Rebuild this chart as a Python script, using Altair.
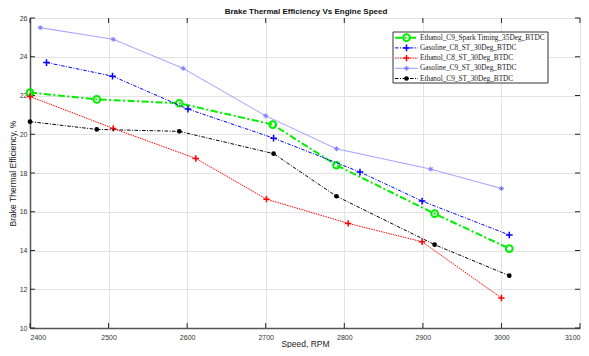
import altair as alt
import pandas as pd

series_names = [
    "Ethanol_C9_Spark Timing_35Deg_BTDC",
    "Gasoline_C8_ST_30Deg_BTDC",
    "Ethanol_C8_ST_30Deg_BTDC",
    "Gasoline_C9_ST_30Deg_BTDC",
    "Ethanol_C9_ST_30Deg_BTDC",
]

speed_e9_35 = [2400, 2485, 2590, 2709, 2790, 2915, 3010]
eff_e9_35 = [22.15, 21.8, 21.6, 20.5, 18.4, 15.9, 14.1]

speed_g8_30 = [2421, 2505, 2601, 2710, 2820, 2899, 3010]
eff_g8_30 = [23.7, 23.0, 21.3, 19.8, 18.05, 16.55, 14.8]

speed_e8_30 = [2400, 2506, 2611, 2701, 2805, 2899, 3000]
eff_e8_30 = [21.95, 20.3, 18.75, 16.65, 15.4, 14.45, 11.55]

speed_g9_30 = [2413, 2506, 2595, 2700, 2790, 2910, 3000]
eff_g9_30 = [25.5, 24.9, 23.4, 20.95, 19.25, 18.2, 17.2]

speed_e9_30 = [2400, 2485, 2590, 2710, 2790, 2915, 3010]
eff_e9_30 = [20.65, 20.25, 20.15, 19.0, 16.8, 14.3, 12.7]

x_ticks = [2400, 2500, 2600, 2700, 2800, 2900, 3000, 3100]
y_ticks = [10, 12, 14, 16, 18, 20, 22, 24, 26]

chart_title = "Brake Thermal Efficiency Vs Engine Speed"
x_title = "Speed, RPM"
y_title = "Brake Thermal Efficiency, %"

W, H = 550, 310

speeds = [speed_e9_35, speed_g8_30, speed_e8_30, speed_g9_30, speed_e9_30]
effs = [eff_e9_35, eff_g8_30, eff_e8_30, eff_g9_30, eff_e9_30]

rows = []
for name, sp, ef in zip(series_names, speeds, effs):
    for s, e in zip(sp, ef):
        rows.append({"series": name, "speed": s, "eff": e})
df = pd.DataFrame(rows)

PLUS = "M-1,0H1M0,-1V1"
STAR = "M-1,0H1M0,-1V1M-0.7,-0.7L0.7,0.7M-0.7,0.7L0.7,-0.7"

styles = [
    dict(color="#00ee00", width=2, dash=[7, 2.5, 2, 2.5], shape="circle", size=45, filled=False, mw=2),
    dict(color="#0000ff", width=1, dash=[3.5, 1.5, 1, 1.5], shape=PLUS, size=45, filled=False, mw=1.5),
    dict(color="#ff0000", width=1, dash=[1.5, 1], shape=PLUS, size=40, filled=False, mw=1.5),
    dict(color="#7b7bff", width=0.8, dash=[1, 0], shape=STAR, size=25, filled=False, mw=1),
    dict(color="#000000", width=1, dash=[3.5, 1.5, 1, 1.5], shape="circle", size=22, filled=True, mw=1),
]

xs = alt.Scale(domain=[2400, 3100], nice=False, zero=False)
ys = alt.Scale(domain=[10, 26], nice=False, zero=False)

axis_common = dict(
    grid=True, gridColor="#e3e3e3", gridWidth=1, ticks=False, labelOverlap=False,
    labelFont="Liberation Sans", labelFontSize=7, labelColor="#333333",
    titleFont="Liberation Sans", titleFontSize=8.5, titleColor="#222222",
    titleFontWeight="normal", domainColor="#555555", domainWidth=1.5, format="d",
)
ax_x = alt.Axis(values=x_ticks, labelPadding=5, titleX=W / 2, titleY=15,
                titleBaseline="middle", titleAlign="center", **axis_common)
ax_y = alt.Axis(values=y_ticks, labelPadding=3, titleX=-18, titleY=H / 2,
                titleAngle=270, titleBaseline="middle", titleAlign="center", **axis_common)


def X(f):
    return alt.X(f, scale=xs, axis=ax_x, title=x_title)


def Y(f):
    return alt.Y(f, scale=ys, axis=ax_y, title=y_title)


base = alt.Chart(df)
layers = []

# inward tick marks
xt = pd.DataFrame({"t": x_ticks})
yt = pd.DataFrame({"v": y_ticks})
tick_col = "#262626"
layers.append(alt.Chart(xt).mark_rule(color=tick_col, strokeWidth=1).encode(
    x=X("t:Q"), y=alt.value(H), y2=alt.value(H - 5)))
layers.append(alt.Chart(xt).mark_rule(color=tick_col, strokeWidth=1).encode(
    x=X("t:Q"), y=alt.value(0), y2=alt.value(5)))
layers.append(alt.Chart(yt).mark_rule(color=tick_col, strokeWidth=1).encode(
    y=Y("v:Q"), x=alt.value(0), x2=alt.value(5)))
layers.append(alt.Chart(yt).mark_rule(color=tick_col, strokeWidth=1).encode(
    y=Y("v:Q"), x=alt.value(W), x2=alt.value(W - 5)))

for name, st in zip(series_names, styles):
    sub = base.transform_filter(alt.datum.series == name)
    layers.append(sub.mark_line(color=st["color"], strokeWidth=st["width"], strokeDash=st["dash"]).encode(
        x=X("speed:Q"), y=Y("eff:Q")))
    layers.append(sub.mark_point(color=st["color"], shape=st["shape"], size=st["size"],
                                 filled=st["filled"], strokeWidth=st["mw"], opacity=1).encode(
        x=X("speed:Q"), y=Y("eff:Q")))

# title as text
td = pd.DataFrame({"t": [chart_title]})
layers.append(alt.Chart(td).mark_text(font="Liberation Sans", fontSize=8, fontWeight="bold",
                                      color="#111111", align="center", baseline="middle").encode(
    text="t:N", x=alt.value(W / 2 + 1), y=alt.value(-6)))

# legend
leg_box = pd.DataFrame({"k": [0]})
layers.append(alt.Chart(leg_box).mark_rect(fill="white", stroke="#333333", strokeWidth=1).encode(
    x=alt.value(363), x2=alt.value(518), y=alt.value(14), y2=alt.value(65)))
for i, (name, st) in enumerate(zip(series_names, styles)):
    ly = 19.7 + i * 10.2
    ld = pd.DataFrame({"label": [name]})
    lc = alt.Chart(ld)
    layers.append(lc.mark_rule(color=st["color"], strokeWidth=st["width"], strokeDash=st["dash"]).encode(
        x=alt.value(365), x2=alt.value(388), y=alt.value(ly)))
    layers.append(lc.mark_point(color=st["color"], shape=st["shape"], size=st["size"],
                                filled=st["filled"], strokeWidth=st["mw"], opacity=1).encode(
        x=alt.value(376.5), y=alt.value(ly)))
    layers.append(lc.mark_text(align="left", baseline="middle", font="Liberation Serif",
                               fontSize=7.3, color="#222222").encode(
        text="label:N", x=alt.value(390), y=alt.value(ly)))

chart = alt.layer(*layers).properties(
    width=W, height=H,
    autosize=alt.AutoSizeParams(type="none"),
    padding={"left": 22, "top": 10, "right": 1, "bottom": 20},
).configure_view(stroke=None).configure_axis(labelOverlap=False).configure(background="white")

chart.save("out.html", embed_options={"renderer": "svg", "actions": False})
